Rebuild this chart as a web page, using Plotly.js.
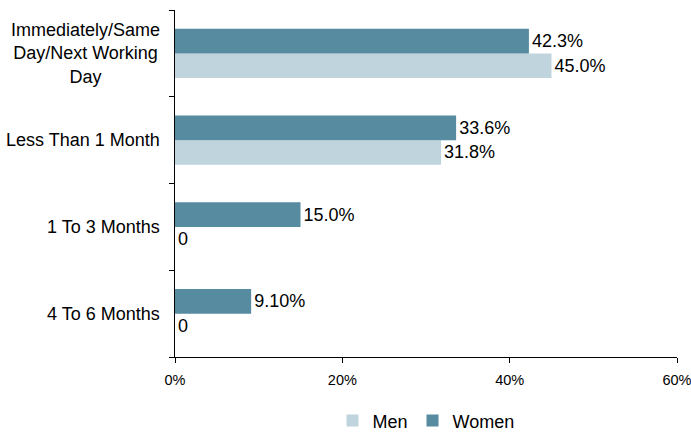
<!DOCTYPE html>
<html>
<head>
<meta charset="utf-8">
<script src="https://cdn.plot.ly/plotly-3.0.1.min.js"></script>
<style>
html,body{margin:0;padding:0;background:#fff;}
#chart{width:691px;height:432px;}
</style>
</head>
<body>
<div id="chart"></div>
<script>
// Data
const categories = ["Immediately/Same<br>Day/Next Working<br>Day", "Less Than 1 Month", "1 To 3 Months", "4 To 6 Months"];
const menValues = [45.0, 31.8, 0, 0];
const womenValues = [42.3, 33.6, 15.0, 9.1];
const menLabels = ["45.0%", "31.8%", "0", "0"];
const womenLabels = ["42.3%", "33.6%", "15.0%", "9.10%"];
const xTickVals = [0, 20, 40, 60];
const xTickText = ["0%", "20%", "40%", "60%"];

const FONT = "Liberation Sans, Arial, sans-serif";
const labelFont = {family: FONT, size: 18, color: "#000"};

const traces = [
  {
    type: "bar", orientation: "h", name: "Men",
    x: menValues, y: categories,
    text: menLabels, textposition: "outside", textfont: labelFont,
    constraintext: "none", cliponaxis: false,
    marker: {color: "#bfd4dd"}, hoverinfo: "none"
  },
  {
    type: "bar", orientation: "h", name: "Women",
    x: womenValues, y: categories,
    text: womenLabels, textposition: "outside", textfont: labelFont,
    constraintext: "none", cliponaxis: false,
    marker: {color: "#578ba0"}, hoverinfo: "none"
  }
];

const annotations = categories.map(c => ({
  xref: "paper", yref: "y", x: -0.025, y: c,
  xanchor: "right", yanchor: "middle", align: "center",
  text: c, showarrow: false, font: labelFont
}));

const layout = {
  width: 691, height: 432,
  margin: {l: 175, r: 14, t: 10, b: 75, autoexpand: false},
  paper_bgcolor: "#fff", plot_bgcolor: "#fff",
  barmode: "group", bargap: 0.435, bargroupgap: 0,
  font: {family: FONT, color: "#000"},
  xaxis: {
    range: [0, 60], tickvals: xTickVals, ticktext: xTickText,
    showgrid: false, zeroline: false,
    showline: true, linecolor: "#000", linewidth: 1,
    ticks: "outside", ticklen: 5, tickcolor: "#000",
    ticklabeloverflow: "allow", ticklabelstandoff: 5,
    tickfont: {family: FONT, size: 14.5, color: "#000"}
  },
  yaxis: {
    type: "category", categoryorder: "array", categoryarray: categories.slice().reverse(),
    range: [-0.5, 3.5], showticklabels: false,
    showgrid: false, zeroline: false,
    showline: true, linecolor: "#000", linewidth: 1,
    ticks: "outside", tickson: "boundaries", ticklen: 5, tickcolor: "#000"
  },
  showlegend: true,
  legend: {
    orientation: "h", x: 0.5, xanchor: "center", y: -0.184, yanchor: "middle",
    font: {family: FONT, size: 18, color: "#000"}, traceorder: "normal",
    itemwidth: 30
  },
  annotations: annotations
};

Plotly.newPlot("chart", traces, layout, {displayModeBar: false, staticPlot: true});
</script>
</body>
</html>
